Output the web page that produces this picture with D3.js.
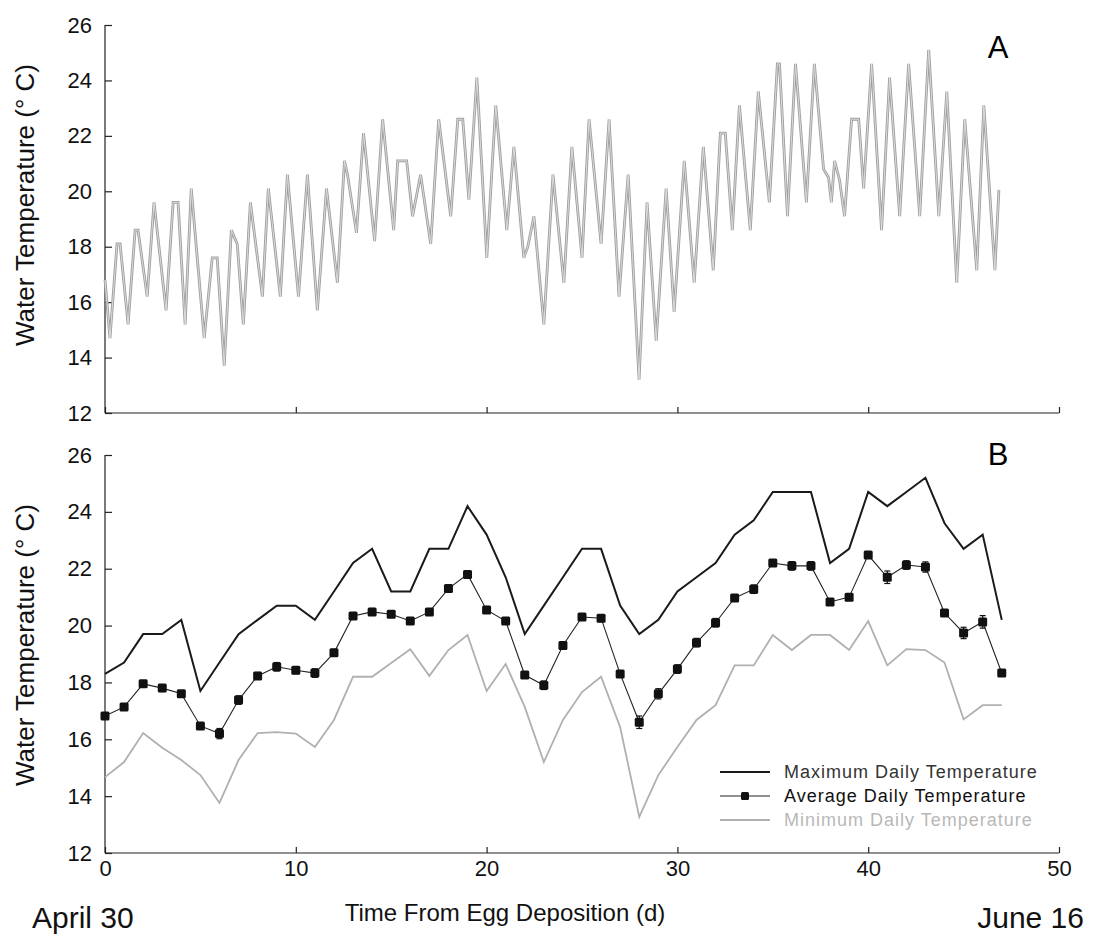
<!DOCTYPE html>
<html>
<head>
<meta charset="utf-8">
<script src="https://cdn.jsdelivr.net/npm/d3@7"></script>
<style>
  body { margin: 0; background: #fff; }
  svg { display: block; font-family: "Liberation Sans", Arial, sans-serif; }
  .axis path, .axis line { stroke: #222; stroke-width: 1.2; }
  .axis text { font-size: 22px; fill: #111; }
</style>
</head>
<body>
<div id="chart"></div>
<script>
// ---- data ----
// Panel B: daily values, index = day from egg deposition
const maxTemp = [18.3, 18.7, 19.7, 19.7, 20.2, 17.7, 18.7, 19.7, 20.2, 20.7, 20.7, 20.2, 21.2, 22.2, 22.7, 21.2,
  21.2, 22.7, 22.7, 24.2, 23.2, 21.7, 19.7, 20.7, 21.7, 22.7, 22.7, 20.7, 19.7, 20.2, 21.2, 21.7,
  22.2, 23.2, 23.7, 24.7, 24.7, 24.7, 22.2, 22.7, 24.7, 24.2, 24.7, 25.2, 23.6, 22.7, 23.2, 20.2];
const avgTemp = [16.82, 17.14, 17.95, 17.8, 17.6, 16.47, 16.2, 17.38, 18.23, 18.55, 18.43, 18.33, 19.04, 20.34, 20.48, 20.4,
  20.16, 20.48, 21.3, 21.8, 20.55, 20.16, 18.26, 17.9, 19.3, 20.3, 20.26, 18.3, 16.6, 17.6, 18.47, 19.4,
  20.1, 20.97, 21.28, 22.2, 22.1, 22.1, 20.83, 21.0, 22.48, 21.7, 22.13, 22.06, 20.44, 19.74, 20.13, 18.33];
const avgErr = [0.1, 0.08, 0.1, 0.12, 0.1, 0.08, 0.18, 0.15, 0.12, 0.15, 0.12, 0.15, 0.12, 0.1, 0.12, 0.1,
  0.08, 0.1, 0.1, 0.12, 0.12, 0.08, 0.08, 0.15, 0.12, 0.1, 0.12, 0.1, 0.22, 0.18, 0.15, 0.15,
  0.15, 0.12, 0.15, 0.1, 0.15, 0.15, 0.08, 0.1, 0.1, 0.22, 0.15, 0.18, 0.1, 0.2, 0.22, 0.08];
const minTemp = [14.67, 15.2, 16.22, 15.7, 15.27, 14.74, 13.76, 15.27, 16.22, 16.25, 16.2, 15.73, 16.68, 18.2, 18.2, 18.68,
  19.17, 18.23, 19.14, 19.67, 17.7, 18.65, 17.14, 15.2, 16.68, 17.66, 18.2, 16.43, 13.27, 14.74, 15.73, 16.68,
  17.2, 18.6, 18.6, 19.67, 19.14, 19.67, 19.67, 19.14, 20.16, 18.6, 19.17, 19.14, 18.7, 16.7, 17.2, 17.2];

// Panel A: continuous logger trace (turning points)
const traceDay = [0.00, 0.26, 0.63, 0.79, 1.21, 1.58, 1.73, 2.21, 2.57, 3.20, 3.57, 3.83, 4.20, 4.52, 5.20, 5.62,
  5.88, 6.25, 6.62, 6.93, 7.25, 7.62, 8.25, 8.56, 9.19, 9.56, 10.14, 10.61, 11.13, 11.61, 12.18, 12.55,
  12.71, 13.18, 13.55, 14.13, 14.55, 15.13, 15.34, 15.81, 16.12, 16.54, 17.07, 17.49, 18.12, 18.49, 18.75, 19.07,
  19.49, 20.01, 20.48, 21.06, 21.43, 21.95, 22.16, 22.48, 23.00, 23.48, 24.05, 24.47, 25.00, 25.37, 26.00, 26.42,
  26.94, 27.42, 27.99, 28.41, 28.89, 29.41, 29.83, 30.36, 30.88, 31.36, 31.88, 32.25, 32.51, 32.88, 33.25, 33.82,
  34.24, 34.82, 35.24, 35.35, 35.77, 36.19, 36.76, 37.18, 37.66, 37.92, 38.07, 38.24, 38.50, 38.76, 39.13, 39.50,
  39.76, 40.18, 40.70, 41.12, 41.65, 42.12, 42.70, 43.17, 43.70, 44.12, 44.64, 45.06, 45.69, 46.06, 46.64, 46.85];
const traceTemp = [16.8, 14.7, 18.1, 18.1, 15.2, 18.6, 18.6, 16.2, 19.6, 15.7, 19.6, 19.6, 15.2, 20.1, 14.7, 17.6,
  17.6, 13.7, 18.6, 18.1, 15.2, 19.6, 16.2, 20.1, 16.2, 20.6, 16.2, 20.6, 15.7, 20.1, 16.7, 21.1,
  20.6, 18.5, 22.1, 18.2, 22.6, 18.6, 21.1, 21.1, 19.1, 20.6, 18.1, 22.6, 19.1, 22.6, 22.6, 19.7,
  24.1, 17.6, 23.1, 18.6, 21.6, 17.6, 18.0, 19.1, 15.2, 20.6, 16.7, 21.6, 17.6, 22.6, 18.1, 22.6,
  16.2, 20.6, 13.2, 19.6, 14.6, 20.1, 15.65, 21.1, 16.7, 21.6, 17.15, 22.1, 22.1, 18.6, 23.1, 18.6,
  23.6, 19.6, 24.6, 24.6, 19.1, 24.6, 19.6, 24.6, 20.8, 20.5, 19.6, 21.1, 20.4, 19.1, 22.6, 22.6,
  20.1, 24.6, 18.6, 24.1, 19.1, 24.6, 19.1, 25.1, 19.1, 23.6, 16.7, 22.6, 17.15, 23.1, 17.15, 20.05];

const xTicks = [0, 10, 20, 30, 40, 50];
const yTicks = [12, 14, 16, 18, 20, 22, 24, 26];
const legendLabels = ["Maximum Daily Temperature", "Average Daily Temperature", "Minimum Daily Temperature"];

// ---- layout ----
const width = 1098, height = 939;
const svg = d3.select("#chart").append("svg")
  .attr("width", width).attr("height", height);
svg.append("rect").attr("width", width).attr("height", height).attr("fill", "#fff");

const x = d3.scaleLinear().domain([0, 50]).range([105, 1059]);
const yA = d3.scaleLinear().domain([12, 26]).range([413, 25]);
const yB = d3.scaleLinear().domain([12, 26]).range([853, 455]);

function drawAxes(y, showXLabels) {
  svg.append("g").attr("class", "axis")
    .attr("transform", `translate(${x(0)},0)`)
    .call(d3.axisLeft(y).tickValues(yTicks).tickSize(-7).tickPadding(13).tickFormat(d3.format("d")))
    .call(g => g.select(".domain").attr("d", `M0,${y(26)}V${y(12)}`));
  const xa = svg.append("g").attr("class", "axis")
    .attr("transform", `translate(0,${y(12)})`)
    .call(d3.axisBottom(x).tickValues(xTicks).tickSize(-6).tickPadding(7).tickFormat(d3.format("d")))
    .call(g => g.select(".domain").attr("d", `M${x(0)},0H${x(50)}`));
  if (!showXLabels) xa.selectAll("text").remove();
}

drawAxes(yA, false);
drawAxes(yB, true);

// y titles
[[yA, 205], [yB, 645]].forEach(([y, cy]) => {
  svg.append("text")
    .attr("transform", `translate(34,${cy}) rotate(-90)`)
    .attr("text-anchor", "middle")
    .style("font-size", "26px").attr("fill", "#111")
    .text("Water Temperature (\u00b0 C)");
});

// panel letters
svg.append("text").attr("x", 998).attr("y", 58).attr("text-anchor", "middle")
  .style("font-size", "31px").text("A");
svg.append("text").attr("x", 998).attr("y", 465).attr("text-anchor", "middle")
  .style("font-size", "31px").text("B");

// ---- panel A trace ----
const trace = traceDay.map((d, i) => [d, traceTemp[i]]);
const lineA = d3.line().x(d => x(d[0])).y(d => yA(d[1]));
svg.append("path").datum(trace)
  .attr("fill", "none").attr("stroke", "#9e9e9e").attr("stroke-width", 2.8)
  .attr("stroke-linejoin", "miter").attr("d", lineA);
svg.append("path").datum(trace)
  .attr("fill", "none").attr("stroke", "#e2e2e2").attr("stroke-width", 0.9)
  .attr("stroke-linejoin", "miter").attr("d", lineA);

// ---- panel B ----
const lineB = d3.line().x((d, i) => x(i)).y(d => yB(d));
svg.append("path").datum(minTemp)
  .attr("fill", "none").attr("stroke", "#b0b0b0").attr("stroke-width", 1.8).attr("d", lineB);
svg.append("path").datum(maxTemp)
  .attr("fill", "none").attr("stroke", "#1a1a1a").attr("stroke-width", 2).attr("d", lineB);
svg.append("path").datum(avgTemp)
  .attr("fill", "none").attr("stroke", "#222").attr("stroke-width", 1.1).attr("d", lineB);

const err = svg.append("g").attr("stroke", "#111").attr("stroke-width", 1.2);
avgTemp.forEach((v, i) => {
  const cx = x(i), y1 = yB(v + avgErr[i]), y2 = yB(v - avgErr[i]);
  err.append("line").attr("x1", cx).attr("x2", cx).attr("y1", y1).attr("y2", y2);
  err.append("line").attr("x1", cx - 3).attr("x2", cx + 3).attr("y1", y1).attr("y2", y1);
  err.append("line").attr("x1", cx - 3).attr("x2", cx + 3).attr("y1", y2).attr("y2", y2);
});
svg.append("g").selectAll("rect").data(avgTemp).join("rect")
  .attr("x", (d, i) => x(i) - 4.5).attr("y", d => yB(d) - 4.5)
  .attr("width", 9).attr("height", 9).attr("rx", 1.5)
  .attr("fill", "#111");

// legend
const legendStyles = [
  { stroke: "#1a1a1a", width: 2, text: "#333", marker: false },
  { stroke: "#222", width: 1.1, text: "#111", marker: true },
  { stroke: "#b0b0b0", width: 1.8, text: "#b8b8b8", marker: false }
];
const legend = svg.append("g");
legendLabels.forEach((lab, i) => {
  const ly = 772 + i * 24;
  const s = legendStyles[i];
  legend.append("line").attr("x1", 720).attr("x2", 770).attr("y1", ly).attr("y2", ly)
    .attr("stroke", s.stroke).attr("stroke-width", s.width);
  if (s.marker) legend.append("rect").attr("x", 741).attr("y", ly - 4)
    .attr("width", 8).attr("height", 8).attr("rx", 1.5).attr("fill", "#111");
  legend.append("text").attr("x", 784).attr("y", ly + 6)
    .style("font-size", "18px").style("letter-spacing", "1px")
    .attr("fill", s.text).text(lab);
});

// bottom labels
svg.append("text").attr("x", 32).attr("y", 928).style("font-size", "30px").attr("fill", "#111").text("April 30");
svg.append("text").attr("x", 505).attr("y", 921).attr("text-anchor", "middle")
  .style("font-size", "24px").attr("fill", "#111").text("Time From Egg Deposition (d)");
svg.append("text").attr("x", 1084).attr("y", 928).attr("text-anchor", "end")
  .style("font-size", "30px").attr("fill", "#111").text("June 16");
</script>
</body>
</html>
